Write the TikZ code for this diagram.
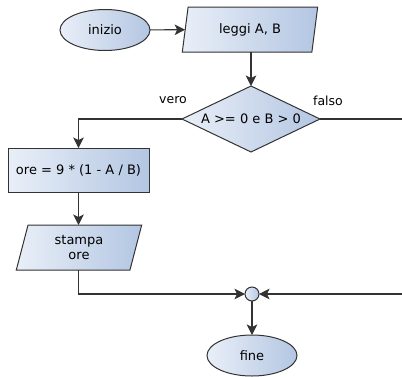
\documentclass[tikz,border=0pt]{standalone}
\usepackage{fontspec}
\setmainfont{DejaVu Sans}
\usetikzlibrary{shapes.geometric,arrows.meta}
\definecolor{fillL}{HTML}{E9EFF8}
\definecolor{fillR}{HTML}{B3C6E2}
\definecolor{edge}{HTML}{333333}
\begin{document}
\begin{tikzpicture}[x=1pt,y=-1pt,
  base/.style={draw=edge, line width=1pt, left color=fillL, right color=fillR,
    font=\fontsize{13}{15}\selectfont, inner sep=0pt, outer sep=0pt},
  term/.style={base, ellipse, minimum width=90pt, minimum height=41pt},
  proc/.style={base, rectangle, minimum width=141pt, minimum height=44pt},
  io/.style={base, trapezium, trapezium left angle=77, trapezium right angle=103,
    trapezium stretches=true, minimum height=45pt, align=center},
  dec/.style={base, diamond, aspect=2.09, minimum width=138pt, minimum height=66pt},
  junc/.style={base, circle, minimum size=14pt},
  conn/.style={draw=edge, line width=1.1pt},
  arr/.style={conn, -{Stealth[length=10.5pt,width=10.5pt,inset=2.5pt]}},
  lbl/.style={font=\fontsize{12.5}{14}\selectfont}
]
\useasboundingbox (0,0) rectangle (402,376);
\clip (0,0) rectangle (402,376);
\node[term] (inizio) at (105,30) {inizio};
\node[io, minimum width=136pt] (leggi) at (250,29.5) {leggi A, B};
\node[dec] (cond) at (251,119) {A >= 0 e B > 0};
\node[proc] (calc) at (78.5,170) {ore = 9 * (1 - A / B)};
\node[io, minimum width=126pt] (stampa) at (79,247.5) {stampa\\ore};
\node[junc] (j) at (252,294) {};
\node[term] (fine) at (252,355.5) {fine};
\node[lbl] (vero) at (173,100) {vero};
\node[lbl] (falso) at (328,101) {falso};
\coordinate (rtop) at (412,119);
\coordinate (rbot) at (412,294);
\draw[arr] (inizio) -- (leggi);
\draw[arr] (leggi.south -| cond.north) -- (cond.north);
\draw[arr] (cond.west) -| (calc.north);
\draw[arr] (calc) -- (stampa.north -| calc.south);
\draw[arr] (stampa.south -| calc.south) |- (j.west);
\draw[arr] (cond.east) -- (rtop) -- (rbot) -- (j.east);
\draw[arr] (j) -- (fine);
\end{tikzpicture}
\end{document}
